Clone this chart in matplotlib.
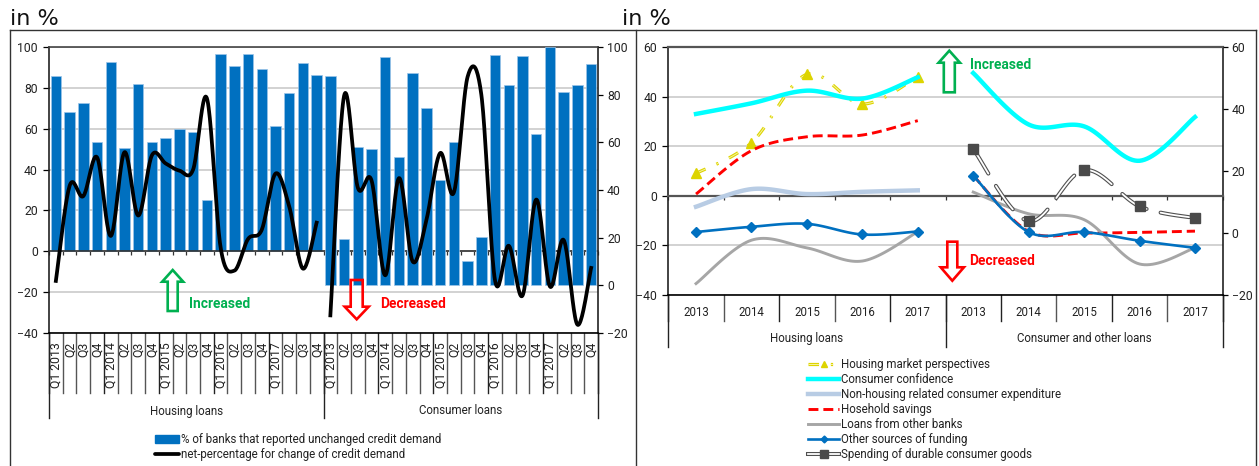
import numpy as np
import matplotlib
matplotlib.use("Agg")
import matplotlib.pyplot as plt
from matplotlib.lines import Line2D
from matplotlib.patches import Polygon, Patch
from matplotlib.legend_handler import HandlerTuple
import matplotlib.patheffects as pe

plt.rcParams['font.family'] = ['Roboto', 'DejaVu Sans']

W = 1259.0
H = 466.0

#
# Left panel data
#
quarters = ["Q1 2013", "Q2", "Q3", "Q4", "Q1 2014", "Q2", "Q3", "Q4", "Q1 2015", "Q2",
            "Q3", "Q4", "Q1 2016", "Q2", "Q3", "Q4", "Q1 2017", "Q2", "Q3", "Q4"]
bars_housing = [86, 68, 72.5, 53.5, 92.5, 50.5, 82, 53.5, 55.5, 60,
                58.5, 25, 96.5, 90.5, 96.5, 89, 61.5, 77.5, 92, 86.5]
bars_consumer = [88, 19.6, 58.2, 57, 95.8, 54, 89, 74.5, 44, 60,
                 10.3, 20.3, 96.5, 84, 96.4, 63.5, 100, 81.3, 84, 93]
net_housing = [-14.5, 32, 27, 46, 7.5, 48.5, 17.5, 47, 43, 39.5,
               40, 75, 2, -9.5, 6, 10.5, 38, 22, -8.5, 14]
net_consumer = [-12.6, 79.5, 41, 44, 4.2, 45, 10, 27.5, 55.5, 39,
                87.5, 80, 2, 16.6, -4.3, 36, -0.5, 19, -16.5, 7.3]

#
# Right panel data
#
years = ["2013", "2014", "2015", "2016", "2017"]
market_perspectives = [9, 21.4, 49, 37, 48]
confidence_h = [33, 37.3, 42.4, 39.2, 47.8]
non_housing = [-4.4, 2.7, 0.7, 1.6, 2.2]
savings_h = [0.7, 18.2, 23.8, 24.5, 30.3]
other_banks_h = [-35.4, -17.9, -21, -26.3, -14.5]
other_funding_h = [-14.6, -12.5, -11.3, -15.6, -14.4]

confidence_c = [51.6, 35, 34.4, 23.3, 37.4]
durable_c = [27.1, 3.8, 20.3, 8.6, 4.8]
savings_c = [18.5, 0.5, 0, 0.2, 0.6]
other_banks_c = [13.2, 6.2, 4.3, -10, -4.8]
other_funding_c = [18.5, 0.3, 0.3, -2.5, -4.8]

BLUE = '#0070C0'
GRID = '#cfcfcf'
GREEN = '#00B050'
RED = '#FF0000'
YELLOW = '#DDD400'
TXT = '#222222'
FS = 8.3


# Excel style smoothed line through the read values
def smooth(x, y, n=24):
    x = np.asarray(x, dtype=float)
    y = np.asarray(y, dtype=float)
    px = np.concatenate(([x[0]], x, [x[-1]]))
    py = np.concatenate(([y[0]], y, [y[-1]]))
    xs, ys = [], []
    t = np.linspace(0, 1, n)
    for i in range(1, len(px) - 2):
        x1, x2 = px[i] + (px[i+1] - px[i-1])/6, px[i+1] - (px[i+2] - px[i])/6
        y1, y2 = py[i] + (py[i+1] - py[i-1])/6, py[i+1] - (py[i+2] - py[i])/6
        xs.append((1-t)**3*px[i] + 3*(1-t)**2*t*x1 + 3*(1-t)*t*t*x2 + t**3*px[i+1])
        ys.append((1-t)**3*py[i] + 3*(1-t)**2*t*y1 + 3*(1-t)*t*t*y2 + t**3*py[i+1])
    return np.concatenate(xs), np.concatenate(ys)


def fx(x):
    return x/W


def fy(y):
    return 1 - y/H


def make_axes(x0, x1, y0, y1):
    ax = fig.add_axes([fx(x0), fy(y1), (x1-x0)/W, (y1-y0)/H])
    ax2 = ax.twinx()
    ax2.patch.set_visible(False)
    for s in ax2.spines.values():
        s.set_visible(False)
    ax.spines['top'].set_color('#444444')
    ax.spines['left'].set_color('#222222')
    ax.spines['right'].set_color('#222222')
    ax.spines['top'].set_linewidth(1.2)
    ax.spines['left'].set_linewidth(1.2)
    ax.spines['right'].set_linewidth(1.2)
    ax.spines['bottom'].set_position(('data', 0))
    ax.spines['bottom'].set_color('#333333')
    ax.spines['bottom'].set_linewidth(1.2)
    ax.yaxis.grid(True, color=GRID, lw=1.3)
    ax.set_axisbelow(True)
    ax.tick_params(axis='x', length=3, width=0.9, color='#333333', labelbottom=False)
    ax.tick_params(axis='y', length=4, width=0.9, labelsize=FS+0.5, labelcolor=TXT, pad=4)
    ax2.tick_params(axis='y', length=3.5, width=0.9, labelsize=FS+0.5, labelcolor=TXT, pad=3)
    return ax, ax2


def category_axis(ax, y0, y1, bottom, low, high, edges, group_edges, level_col='#555555'):
    frac = lambda y: (y1 - y)/(y1 - y0)
    tr = ax.get_xaxis_transform()
    ax.plot([0, 1], [frac(bottom)]*2, transform=ax.transAxes, color='black', lw=1.2, clip_on=False, zorder=5)
    for i, e in enumerate(edges):
        c = '#222222' if i % level_col_step(len(edges)) == 0 else level_col
        ax.plot([e, e], [frac(bottom), frac(low)], transform=tr, color=c, lw=1.0, clip_on=False)
    for e in group_edges:
        ax.plot([e, e], [frac(bottom), frac(high)], transform=tr, color='#222222', lw=1.0, clip_on=False)


def level_col_step(n):
    return 4 if n > 20 else 2


def arrow(tip, head_y, end_y, shaft, head, col):
    # outline arrow given in picture pixels
    tx, ty = tip
    pts = [(tx, ty), (tx+head, head_y), (tx+shaft, head_y), (tx+shaft, end_y),
           (tx-shaft, end_y), (tx-shaft, head_y), (tx-head, head_y)]
    fig.add_artist(Polygon([(fx(a), fy(b)) for a, b in pts], closed=True, fill=False,
                           edgecolor=col, lw=1.9, transform=fig.transFigure, joinstyle='miter'))


def note(x, y, s, col):
    fig.text(fx(x), fy(y), s, color=col, fontsize=9.9, fontweight='bold', ha='left', va='center')


fig = plt.figure(figsize=(W/100, H/100), dpi=100)

# panel frames
for xs, ys in [([10, 10], [466, 30]), ([10, 1256], [30, 30]), ([636, 636], [30, 466]), ([1256, 1256], [30, 466])]:
    fig.add_artist(Line2D([fx(v) for v in xs], [fy(v) for v in ys], color='#333333', lw=1.0))

fig.text(fx(10), fy(25), "in %", fontsize=16, family='DejaVu Sans', color='#111111', ha='left', va='baseline')
fig.text(fx(622), fy(25), "in %", fontsize=16, family='DejaVu Sans', color='#111111', ha='left', va='baseline')

#
# Left panel
#
L0, L1, T0, B0 = 49, 598, 47, 333
ax, ax2 = make_axes(L0, L1, T0, B0)
xh = np.arange(len(bars_housing))
xc = np.arange(len(bars_consumer)) + len(bars_housing)

ax.bar(xh, bars_housing, width=0.76, color=BLUE, edgecolor='#9cc5e8', linewidth=0.5, zorder=2)
ax2.bar(xc, bars_consumer, width=0.76, color=BLUE, edgecolor='#9cc5e8', linewidth=0.5, zorder=2)
ax.plot(*smooth(xh, net_housing), color='black', lw=2.7, zorder=4)
ax2.plot(*smooth(xc, net_consumer), color='black', lw=2.7, zorder=4)

ax.set_xlim(-0.5, 39.5)
ax.set_ylim(-40, 100)
ax2.set_ylim(-20, 100)
ax.set_yticks(np.arange(-40, 101, 20))
ax2.set_yticks(np.arange(-20, 101, 20))
ax.set_xticks(np.arange(0, 41) - 0.5)

category_axis(ax, T0, B0, B0, 393, 418, np.arange(0, 41) - 0.5, [-0.5, 19.5, 39.5])
tr = ax.get_xaxis_transform()
frac = lambda y: (B0 - y)/(B0 - T0)
for i, lab in enumerate(quarters + quarters):
    ax.text(i + 0.03, frac(342), lab, transform=tr, rotation=90, ha='center', va='top',
            fontsize=FS+0.5, color=TXT, clip_on=False)
ax.text(9.5, frac(411), "Housing loans", transform=tr, ha='center', va='center', fontsize=FS, color=TXT)
ax.text(29.5, frac(411), "Consumer loans", transform=tr, ha='center', va='center', fontsize=FS, color=TXT)

fig.legend([Patch(color=BLUE), Line2D([], [], color='black', lw=2.7, solid_capstyle='round')],
           ["% of banks that reported unchanged credit demand", "net-percentage for change of credit demand"],
           loc='upper left', bbox_to_anchor=(fx(152), fy(429.5)), frameon=False, fontsize=FS,
           handlelength=2.0, handletextpad=0.2, labelspacing=0.19, borderaxespad=0, borderpad=0.3,
           labelcolor=TXT)

arrow((172.7, 270), 281.7, 311, 5, 10.5, GREEN)
note(188.7, 304, "Increased", GREEN)
arrow((356.7, 319.3), 306.7, 280, 6, 12, RED)
note(380, 304, "Decreased", RED)

#
# Right panel
#
R0, R1, T1, B1 = 668.3, 1222.7, 47, 295
rx, rx2 = make_axes(R0, R1, T1, B1)
xa = np.arange(5)
xb = np.arange(5) + 5

yl_ls = (0, (3.3, 3.7, 0.7, 3.7))
dur_ls = (0, (16, 8))
compound_d = [pe.Stroke(linewidth=2.9, foreground='#505050'), pe.Normal()]

yline = dict(color='#F6F3A0', lw=2.3, ls=yl_ls, path_effects=[pe.Stroke(linewidth=2.3, foreground=YELLOW),
                                                              pe.Stroke(linewidth=0.7, foreground='#F6F3A0')])
ymark = dict(color=YELLOW, marker='^', ms=7.5, ls='none')
dline = dict(color='white', lw=1.3, ls=dur_ls, dash_capstyle='round', path_effects=compound_d)
dmark = dict(color='#4a4a4a', marker='s', ms=7.5, ls='none')
cyan = dict(color='#00FFFF', lw=3.2)
nonh = dict(color='#B8CCE4', lw=3.2)
redd = dict(color=RED, lw=2.1, ls=(0, (3.4, 1.7)))
gray = dict(color='#A6A6A6', lw=2.1)
blue = dict(color=BLUE, lw=1.9)
bmark = dict(color=BLUE, marker='D', ms=5, ls='none')

rx.plot(*smooth(xa, market_perspectives), zorder=3, **yline)
rx.plot(xa, market_perspectives, zorder=3, **ymark)
rx.plot(*smooth(xa, confidence_h), zorder=3, **cyan)
rx.plot(*smooth(xa, non_housing), zorder=3, **nonh)
rx.plot(*smooth(xa, savings_h), zorder=3, **redd)
rx.plot(*smooth(xa, other_banks_h), zorder=3, **gray)
rx.plot(*smooth(xa, other_funding_h), zorder=3, **blue)
rx.plot(xa, other_funding_h, zorder=3, **bmark)

rx2.plot(*smooth(xb, confidence_c), **cyan)
rx2.plot(*smooth(xb, savings_c), **redd)
rx2.plot(*smooth(xb, other_banks_c), **gray)
rx2.plot(*smooth(xb, other_funding_c), **blue)
rx2.plot(xb, other_funding_c, **bmark)
rx2.plot(*smooth(xb, durable_c), **dline)
rx2.plot(xb, durable_c, **dmark)

rx.set_xlim(-0.5, 9.5)
rx.set_ylim(-40, 60)
rx2.set_ylim(-20, 60)
rx.set_yticks(np.arange(-40, 61, 20))
rx2.set_yticks(np.arange(-20, 61, 20))
rx.set_xticks(np.arange(0, 11) - 0.5)
rx.spines['bottom'].set_linewidth(1.6)
rx.spines['bottom'].set_color('#555555')
rx.spines['top'].set_linewidth(1.6)
rx.spines['top'].set_color('#555555')

category_axis(rx, T1, B1, B1, 321, 346.5, np.arange(0, 11) - 0.5, [-0.5, 4.5, 9.5])
tr = rx.get_xaxis_transform()
frac = lambda y: (B1 - y)/(B1 - T1)
for i, lab in enumerate(years + years):
    rx.text(i, frac(312.5), lab, transform=tr, ha='center', va='center', fontsize=FS, color=TXT)
rx.text(2, frac(338.5), "Housing loans", transform=tr, ha='center', va='center', fontsize=FS, color=TXT)
rx.text(7, frac(338.5), "Consumer and other loans", transform=tr, ha='center', va='center', fontsize=FS, color=TXT)

handles = [(Line2D([], [], **yline), Line2D([], [], color=YELLOW, marker='^', ms=5, ls='none')),
           Line2D([], [], **cyan),
           Line2D([], [], **nonh),
           Line2D([], [], **redd),
           Line2D([], [], **gray),
           (Line2D([], [], **blue), Line2D([], [], color=BLUE, marker='D', ms=3.5, ls='none')),
           (Line2D([], [], color='white', lw=1.3, path_effects=compound_d),
            Line2D([], [], color='#4a4a4a', marker='s', ms=5.5, ls='none'))]
labels = ["Housing market perspectives", "Consumer confidence", "Non-housing related consumer expenditure",
          "Hosehold savings", "Loans from other banks", "Other sources of funding",
          "Spending of durable consumer goods"]
fig.legend(handles, labels, loc='upper left', bbox_to_anchor=(fx(808), fy(358)), frameon=False, fontsize=FS,
           handlelength=2.7, handletextpad=0.2, labelspacing=0.17, borderaxespad=0, borderpad=0,
           labelcolor=TXT, handler_map={tuple: HandlerTuple(ndivide=1, pad=0)})

arrow((949.3, 50.7), 62.7, 92.3, 5.5, 10.7, GREEN)
note(970, 64.7, "Increased", GREEN)
arrow((952.3, 280.7), 267.3, 241.7, 5, 11.6, RED)
note(969, 260.7, "Decreased", RED)

fig.savefig('out.png', dpi=100)
